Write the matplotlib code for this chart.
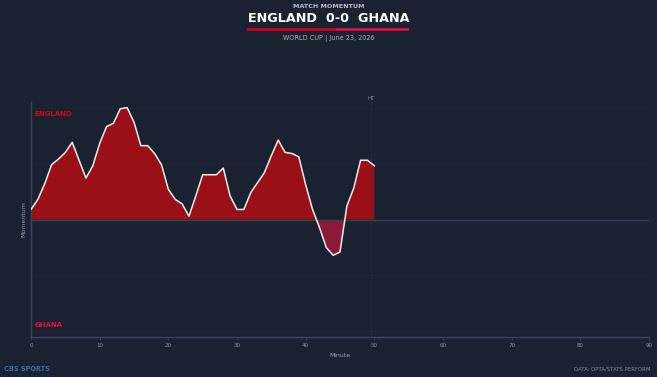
import numpy as np
import matplotlib
matplotlib.use("Agg")
import matplotlib.pyplot as plt

# momentum per minute (positive = England, negative = Ghana)
minutes = list(range(0, 51))
momentum = [9, 18, 32, 49, 54, 60, 69, 53, 37, 48,
            68, 83, 86, 99, 100, 87, 66, 66, 59, 49,
            27, 18, 14, 3, 21, 40, 40, 40, 46, 21,
            9, 9, 24, 33, 42, 57, 71, 60, 59, 56,
            31, 9, -7, -25, -32, -29, 12, 28, 53, 53,
            48]
ht_minute = 49.5
xticks = [0, 10, 20, 30, 40, 50, 60, 70, 80, 90]
home, away = "ENGLAND", "GHANA"
score = "0-0"

bg = "#1a2232"
red = "#9b0f17"
crimson = "#8d1a38"
home_col = "#d0021b"
away_col = "#e0103e"
muted = "#8f9bb0"

fig = plt.figure(figsize=(6.57, 3.77), dpi=100, facecolor=bg)
ax = fig.add_axes([0.0472, 0.1061, 0.9406, 0.6233])
ax.set_facecolor(bg)

x = np.array(minutes)
y = np.array(momentum)
ax.fill_between(x, y, 0, where=y >= 0, interpolate=True, color=red, lw=0)
ax.fill_between(x, y, 0, where=y <= 0, interpolate=True, color=crimson, lw=0)
ax.plot(x, y, color="#eeeeee", lw=1.1, zorder=3)

for g in [-100, -50, 50, 100]:
    ax.axhline(g, color="#1e2737", lw=0.6, zorder=0)
ax.axhline(0, color="#354052", lw=1.0, zorder=1)
ax.axvline(ht_minute, color="#2c3748", lw=0.7, ls=":", zorder=1)
ax.text(ht_minute, 106, "HT", color="#7d889b", fontsize=4, ha="center", va="bottom")

ax.set_xlim(0, 90)
ax.set_ylim(-105, 105)
ax.set_xticks(xticks)
ax.set_yticks([])
ax.tick_params(axis="x", colors="#3a4658", labelcolor="#8b95a7", labelsize=4, length=2, width=0.6, pad=2)
for s in ["top", "right"]:
    ax.spines[s].set_visible(False)
for s in ["left", "bottom"]:
    ax.spines[s].set_color("#3a4658")
    ax.spines[s].set_linewidth(1.0)

ax.set_xlabel("Minute", color="#9aa4b5", fontsize=4.4, labelpad=4)
ax.set_ylabel("Momentum", color=muted, fontsize=4.5, labelpad=3)

ax.text(0.5, 94, home, color=home_col, fontsize=5, fontweight="bold", va="center")
ax.text(0.5, -94, away, color=away_col, fontsize=5, fontweight="bold", va="center")

# header
fig.text(0.5, 1 - 6.5 / 377, "MATCH MOMENTUM", color="#b8c1d1", fontsize=4.6,
         fontweight="bold", ha="center", va="center")
fig.text(0.5, 1 - 18.5 / 377, f"{home}  {score}  {away}", color="white", fontsize=9.2,
         fontweight="bold", ha="center", va="center")
fig.add_artist(plt.Line2D([248 / 657, 337 / 657], [1 - 29 / 377] * 2, color=home_col, lw=2))
fig.add_artist(plt.Line2D([337 / 657, 407 / 657], [1 - 29 / 377] * 2, color=away_col, lw=2))
fig.text(0.5, 1 - 38.5 / 377, "WORLD CUP | June 23, 2026", color="#a7b0c0", fontsize=4.7,
         ha="center", va="center")

# footer
fig.text(4 / 657, 1 - 369 / 377, "CBS SPORTS", color="#3a6ea5", fontsize=4.7,
         fontweight="bold", ha="left", va="center")
fig.text(650 / 657, 1 - 369 / 377, "DATA: OPTA/STATS PERFORM", color="#7d889b", fontsize=3.9,
         ha="right", va="center")

fig.savefig("out.png", dpi=100, facecolor=bg)
